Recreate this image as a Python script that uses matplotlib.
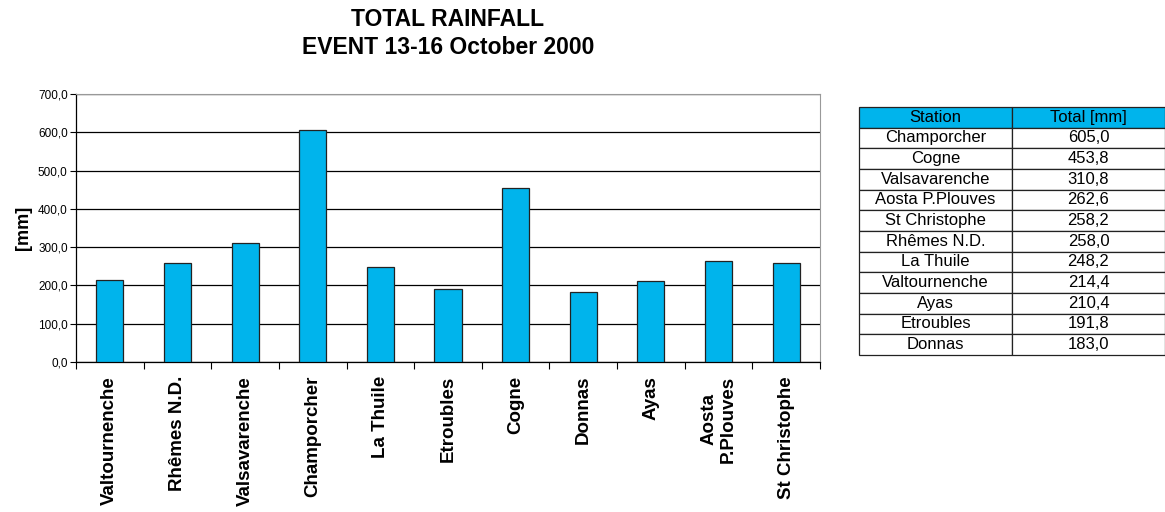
import numpy as np
import matplotlib
matplotlib.use("Agg")
import matplotlib.pyplot as plt
from matplotlib.ticker import FuncFormatter

plt.rcParams['font.family'] = ['Liberation Sans', 'DejaVu Sans']

# data, in the order of the bars
stations = ["Valtournenche", "Rhêmes N.D.", "Valsavarenche", "Champorcher", "La Thuile",
            "Etroubles", "Cogne", "Donnas", "Ayas", "Aosta P.Plouves", "St Christophe"]
bar_labels = ["Valtournenche", "Rhêmes N.D.", "Valsavarenche", "Champorcher", "La Thuile",
              "Etroubles", "Cogne", "Donnas", "Ayas", "Aosta\nP.Plouves", "St Christophe"]
totals = [214.4, 258.0, 310.8, 605.0, 248.2, 191.8, 453.8, 183.0, 210.4, 262.6, 258.2]

blue = "#00b4ec"

fig = plt.figure(figsize=(11.65, 5.12), dpi=100)
ax = fig.add_axes([76/1165, 1-362/512, 744/1165, 268/512])

x = np.arange(len(stations))
ax.bar(x, totals, width=0.4, color=blue, edgecolor="#222222", linewidth=0.9, zorder=3)

ax.set_xlim(-0.5, len(stations)-0.5)
ax.set_ylim(0, 700)
ax.set_yticks(np.arange(0, 701, 100))
ax.yaxis.set_major_formatter(FuncFormatter(lambda v, p: f"{v:.1f}".replace(".", ",")))
ax.tick_params(axis="y", labelsize=8.5, length=4, width=0.8, direction="out", pad=2)
ax.grid(axis="y", color="black", linewidth=0.9, zorder=0)

# category boundary ticks below the axis
ax.set_xticks(np.arange(-0.5, len(stations), 1.0))
ax.set_xticklabels([])
ax.set_xticks(x, minor=True)
ax.set_xticklabels(bar_labels, minor=True, rotation=90, fontsize=13.5,
                   fontweight="bold", ha="center", va="top", multialignment="center")
ax.tick_params(axis="x", which="major", length=5, width=0.8)
ax.tick_params(axis="x", which="minor", length=0, pad=10)

ax.spines["top"].set_color("#999999")
ax.spines["right"].set_color("#999999")
ax.spines["left"].set_linewidth(0.9)
ax.spines["bottom"].set_linewidth(0.9)

ax.set_ylabel("[mm]", fontsize=13, fontweight="bold", labelpad=4)

fig.text(448/1165, 1-20/512, "TOTAL RAINFALL", ha="center", va="center",
         fontsize=16.5, fontweight="bold")
fig.text(448/1165, 1-47/512, "EVENT 13-16 October 2000", ha="center", va="center",
         fontsize=16.5, fontweight="bold")

# summary table sorted by total
order = np.argsort(totals)[::-1]
cells = [[stations[i], f"{totals[i]:.1f}".replace(".", ",")] for i in order]

tax = fig.add_axes([859/1165, 1-355/512, 306/1165, 248/512])
tax.axis("off")
tab = tax.table(cellText=cells, colLabels=["Station", "Total [mm]"],
                cellLoc="center", bbox=[0, 0, 1, 1])
tab.auto_set_font_size(False)
for (r, c), cell in tab.get_celld().items():
    cell.set_linewidth(0.9)
    cell.set_edgecolor("#222222")
    cell.get_text().set_fontsize(12)
    if r == 0:
        cell.set_facecolor(blue)

fig.savefig("out.png", dpi=100)
